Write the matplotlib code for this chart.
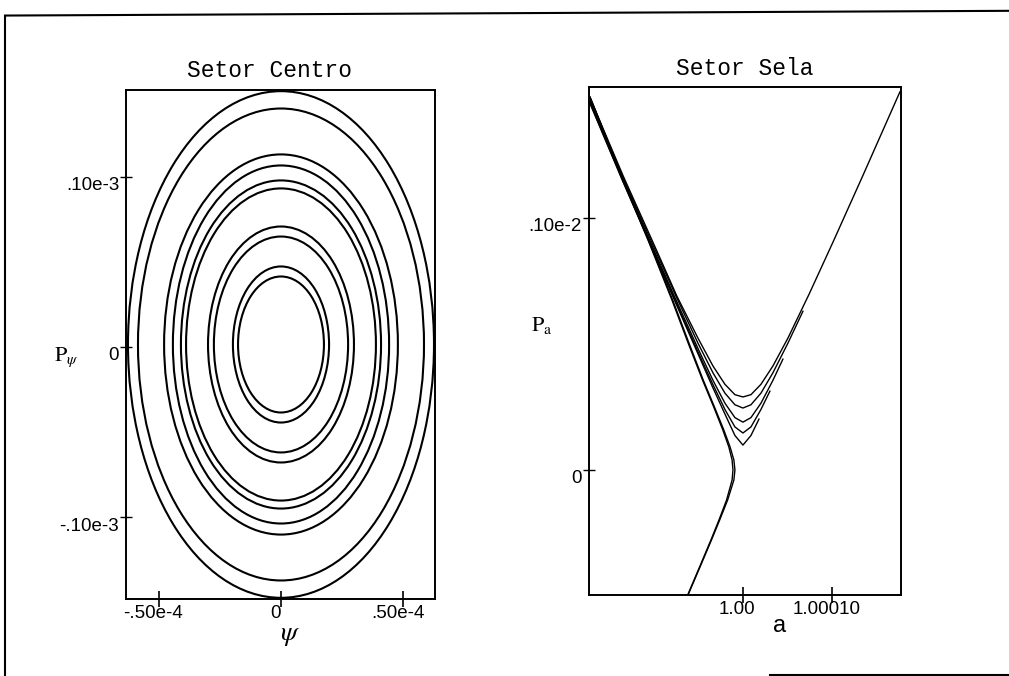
import numpy as np
import matplotlib.pyplot as plt
import matplotlib.transforms as mtransforms
from matplotlib.patches import Ellipse
from matplotlib.lines import Line2D

plt.rcParams['mathtext.fontset'] = 'stix'

# Setor Centro: closed orbits around the centre point
# half width in psi and half height in P_psi, both in units of 1e-4
centro_ppsi = 0.015
psi_half = [0.627, 0.586, 0.479, 0.443, 0.410, 0.389, 0.299, 0.275, 0.197, 0.176]
ppsi_half = [1.490, 1.388, 1.118, 1.053, 0.965, 0.918, 0.694, 0.635, 0.459, 0.400]

# Setor Sela: orbits near the saddle, a - 1 in units of 1e-5, P_a in units of 1e-4
sela_a1 = [-17.19, -13.48, -10.11, -7.42, -5.06, -3.37, -2.02, -0.90, 0.0,
           0.90, 2.02, 3.37, 5.06, 7.42, 10.11, 13.48, 17.64]
sela_p1 = [14.78, 11.69, 9.04, 6.90, 5.24, 4.13, 3.40, 2.99, 2.90,
           2.99, 3.40, 4.13, 5.24, 6.97, 9.04, 11.69, 15.01]
sela_a2 = [-17.19, -13.48, -10.11, -7.42, -5.06, -3.37, -2.02, -0.90, 0.0,
           0.90, 2.02, 3.37, 5.06, 6.74]
sela_p2 = [14.70, 11.61, 8.93, 6.82, 5.04, 3.86, 3.05, 2.59, 2.46,
           2.59, 3.05, 3.86, 5.04, 6.30]
sela_a3 = [-17.19, -13.48, -10.11, -7.42, -5.06, -3.37, -2.02, -0.90, 0.0,
           0.90, 2.02, 3.37, 4.49]
sela_p3 = [14.62, 11.52, 8.81, 6.67, 4.83, 3.56, 2.65, 2.08, 1.90,
           2.08, 2.65, 3.56, 4.40]
sela_a4 = [-17.19, -13.48, -10.11, -7.42, -5.06, -3.37, -2.02, -0.90, 0.0,
           0.90, 2.02, 3.03]
sela_p4 = [14.58, 11.47, 8.75, 6.58, 4.70, 3.39, 2.40, 1.71, 1.47,
           1.71, 2.40, 3.13]
sela_a5 = [-17.19, -13.48, -10.11, -7.42, -5.06, -3.37, -2.02, -0.90, 0.0,
           0.90, 1.80]
sela_p5 = [14.55, 11.44, 8.71, 6.52, 4.62, 3.26, 2.22, 1.37, 0.99,
           1.37, 2.02]
# orbits passing below the saddle
low_a1 = [-17.19, -13.71, -10.67, -7.98, -6.07, -4.54, -3.28, -2.26, -1.58, -1.22,
          -1.12, -1.22, -1.84, -2.69, -3.60, -4.78, -6.21]
low_p1 = [14.80, 11.71, 9.13, 6.75, 4.96, 3.57, 2.50, 1.59, 0.91, 0.40,
          0.0, -0.40, -1.19, -1.98, -2.78, -3.77, -4.96]
low_a2 = [-17.17, -13.65, -10.60, -7.90, -5.98, -4.46, -3.20, -2.15, -1.44, -1.02,
          -0.90, -1.02, -1.72, -2.61, -3.54, -4.73, -6.17]
low_p2 = [14.80, 11.71, 9.13, 6.75, 4.96, 3.57, 2.50, 1.59, 0.91, 0.40,
          0.0, -0.40, -1.19, -1.98, -2.78, -3.77, -4.96]

sela_curves = [(sela_a1, sela_p1), (sela_a2, sela_p2), (sela_a3, sela_p3),
               (sela_a4, sela_p4), (sela_a5, sela_p5),
               (low_a1, low_p1), (low_a2, low_p2)]

fig = plt.figure(figsize=(10.09, 6.76), dpi=100)
ax1 = fig.add_axes([0.1249, 0.1139, 0.3062, 0.7530])
ax2 = fig.add_axes([0.5837, 0.1198, 0.3092, 0.7515])

mono = 'Liberation Mono'
sans = 'Liberation Sans'

# left panel
for w, h in zip(psi_half, ppsi_half):
    ax1.add_patch(Ellipse((0, centro_ppsi * 1e-4), 2 * w * 1e-4, 2 * h * 1e-4,
                          fill=False, edgecolor='black', lw=1.5))
ax1.set_xlim(-0.635e-4, 0.631e-4)
ax1.set_ylim(-1.482e-4, 1.512e-4)
ax1.set_xticks([-0.5e-4, 0, 0.5e-4])
ax1.set_xticklabels(['-.50e-4', '0', '.50e-4'])
ax1.set_yticks([-1e-4, 0, 1e-4])
ax1.set_yticklabels(['-.10e-3', '0', '.10e-3'])
ax1.set_title('Setor Centro', family=mono, fontsize=16.5, pad=9, x=0.466)
ax1.set_xlabel(r'$\psi$', fontsize=20, va='center')
ax1.set_ylabel(r'$\mathrm{P}_\psi$', fontsize=16, rotation=0, va='center', ha='center')
ax1.xaxis.set_label_coords(0.531, -0.069)
ax1.yaxis.set_label_coords(-0.194, 0.475)

# right panel
for a, p in sela_curves:
    ax2.plot(1 + np.array(a) * 1e-5, np.array(p) * 1e-4, color='black', lw=1.0)
ax2.set_xlim(1 - 1.730e-4, 1 + 1.775e-4)
ax2.set_ylim(-0.496e-3, 1.520e-3)
ax2.set_xticks([1.0, 1.0001])
ax2.set_xticklabels(['1.00', '1.00010'])
ax2.set_yticks([0, 1e-3])
ax2.set_yticklabels(['0', '.10e-2'])
ax2.set_title('Setor Sela', family=mono, fontsize=16.5, pad=9)
ax2.set_xlabel('a', family=sans, fontsize=17, va='center')
ax2.set_ylabel(r'$\mathrm{P}_\mathrm{a}$', fontsize=16, rotation=0, va='center', ha='center')
ax2.xaxis.set_label_coords(0.612, -0.061)
ax2.yaxis.set_label_coords(-0.151, 0.530)

down = mtransforms.ScaledTranslation(0, -5 / 72, fig.dpi_scale_trans)
left = mtransforms.ScaledTranslation(-4 / 72, 0, fig.dpi_scale_trans)
for ax in (ax1, ax2):
    for s in ax.spines.values():
        s.set_linewidth(1.4)
    ax.tick_params(axis='x', direction='inout', length=12, width=1.2, pad=-2, labelsize=13.5)
    ax.tick_params(axis='y', direction='inout', length=8, width=1.0, pad=1, labelsize=13.5)
    for lab in ax.get_xticklabels() + ax.get_yticklabels():
        lab.set_family(sans)
    for lab in ax.get_yticklabels():
        lab.set_transform(lab.get_transform() + down)
    for lab in ax.get_xticklabels():
        lab.set_transform(lab.get_transform() + left)

# frame of the scanned page
fig.add_artist(Line2D([0.005, 1.0], [0.977, 0.984], color='black', lw=1.5))
fig.add_artist(Line2D([0.005, 0.005], [0.977, 0.0], color='black', lw=1.5))
fig.add_artist(Line2D([0.763, 1.0], [0.002, 0.002], color='black', lw=1.5))

fig.savefig('out.png', dpi=100)
